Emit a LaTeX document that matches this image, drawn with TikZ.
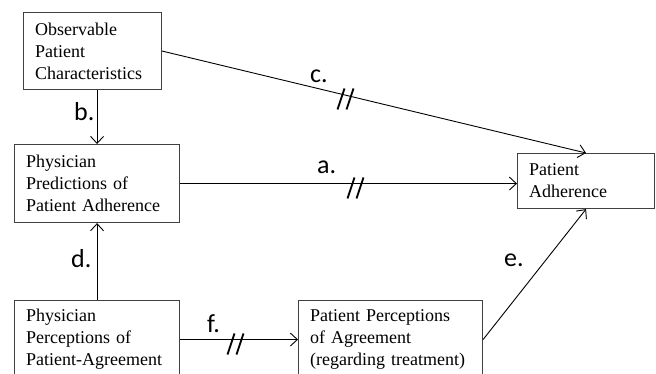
\documentclass[tikz,border=0pt]{standalone}
\usepackage{fontspec}
\setmainfont{Liberation Serif}
\newfontfamily\lblfont{Carlito}
\usetikzlibrary{arrows.meta}
\tikzset{
  box/.style={draw=black!75, line width=1.1pt, align=left, anchor=north west,
    inner xsep=11pt, inner ysep=0pt, font=\fontsize{18}{22}\selectfont},
  conn/.style={line width=0.9pt, -{Straight Barb[length=7pt,width=13pt,line width=0.9pt]}},
  lbl/.style={anchor=base west, inner sep=0pt, font=\lblfont\fontsize{26}{26}\selectfont},
  hashmark/.style={line width=1.8pt}
}
\newcommand{\hashat}[2]{%
  \draw[hashmark] (#1-3.5,#2+10.5) -- (#1+3.5,#2-10.5);
  \draw[hashmark] (#1+5.5,#2+10.5) -- (#1+12.5,#2-10.5);
}
\begin{document}
\begin{tikzpicture}[x=1pt,y=-1pt]
\useasboundingbox (0,0) rectangle (656,374);
\clip (0,0) rectangle (656,374);
\node[box, minimum width=138pt, minimum height=77pt, text width=115pt] (obs) at (23,12)
  {Observable\\Patient\\Characteristics};
\node[box, minimum width=165pt, minimum height=78pt, text width=142pt] (pred) at (14,144)
  {Physician\\Predictions of\\Patient Adherence};
\node[box, minimum width=165pt, minimum height=78pt, text width=142pt] (perc) at (14,300)
  {Physician\\Perceptions of\\Patient-Agreement};
\node[box, minimum width=184pt, minimum height=78pt, text width=161pt] (pagr) at (298,300)
  {Patient Perceptions\\of Agreement\\(regarding treatment)};
\node[box, minimum width=137pt, minimum height=55pt, text width=114pt] (adh) at (517,153)
  {Patient\\Adherence};

\draw[conn] (obs.south -| pred.north) -- (pred.north);
\draw[conn] (obs.east) -- (adh.north);
\draw[conn] (pred.east) -- (pred.east -| adh.west);
\draw[conn] (perc.north) -- (pred.south);
\draw[conn] (perc.east) -- (pagr.west);
\draw[conn] (pagr.east) -- (adh.south);

\node[lbl] (lb) at (74,121) {b.};
\node[lbl] (lc) at (310,83) {c.};
\node[lbl] (la) at (317,174) {a.};
\node[lbl] (ld) at (71,268) {d.};
\node[lbl] (le) at (504,266) {e.};
\node[lbl] (lf) at (207,332) {f.};

\hashat{341}{99}
\hashat{351}{188}
\hashat{231}{344}
\end{tikzpicture}
\end{document}
